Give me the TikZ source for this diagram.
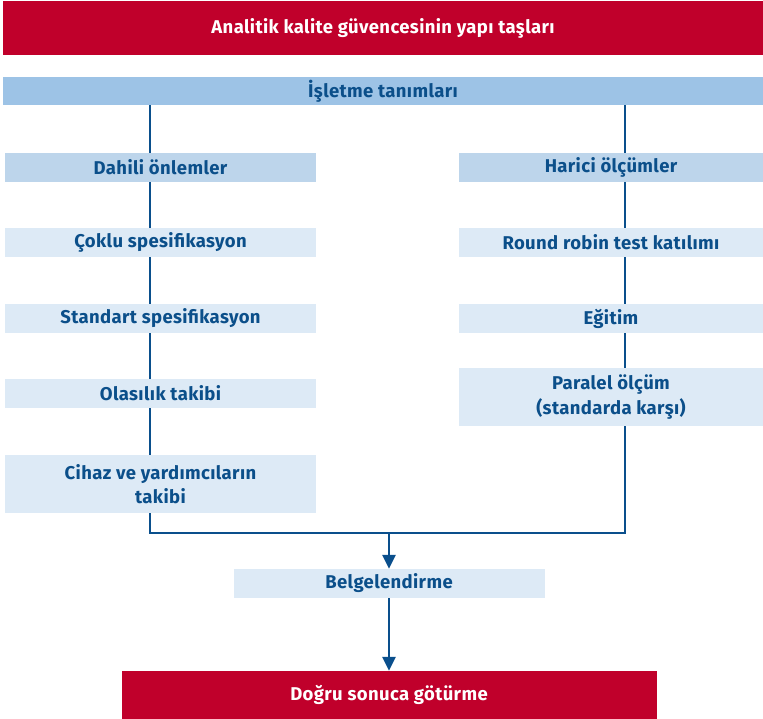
\documentclass[tikz,border=0pt]{standalone}
\usepackage{fontspec}
\setmainfont{Fira Sans}[LetterSpace=2]
\usetikzlibrary{arrows.meta}
\definecolor{qred}{HTML}{C0002B}
\definecolor{qbar}{HTML}{9DC3E6}
\definecolor{qmid}{HTML}{BDD5EB}
\definecolor{qlight}{HTML}{DDEAF6}
\definecolor{qtext}{HTML}{0B4F8A}
\definecolor{qline}{HTML}{0A4F8C}
\tikzset{
  box/.style={rectangle, inner sep=0pt, align=center, text=qtext,
    font=\fontsize{18.5}{24.5}\selectfont\bfseries},
  redbox/.style={box, fill=qred, text=white},
  midbox/.style={box, fill=qmid, minimum height=29pt},
  lightbox/.style={box, fill=qlight, minimum height=29pt},
  conn/.style={draw=qline, line width=2.8pt},
  arr/.style={conn, -{Triangle[width=13pt,length=14pt]}}
}
\begin{document}
\begin{tikzpicture}[x=1pt,y=-1pt]
\useasboundingbox (0,0) rectangle (763,719);
% connectors (behind boxes)
\coordinate (lb) at (150,533);
\coordinate (rb) at (625,533);
\coordinate (mb) at (389,533);
\coordinate (lt) at (150,100);
\coordinate (rt) at (625,100);
\draw[conn] (lt) -- (lb) -- (rb) -- (rt);
% boxes
\node[redbox, minimum width=760pt, minimum height=54pt] (title) at (383,28) {Analitik kalite güvencesinin yapı taşları};
\node[box, fill=qbar, minimum width=760pt, minimum height=28pt] (isletme) at (383,91) {İşletme tanımları};
\node[midbox, minimum width=311pt] (dahili) at (160.5,167.5) {Dahili önlemler};
\node[lightbox, minimum width=311pt] (coklu) at (160.5,242.5) {Çoklu spesifikasyon};
\node[lightbox, minimum width=311pt] (standart) at (160.5,318.5) {Standart spesifikasyon};
\node[lightbox, minimum width=311pt] (olasilik) at (160.5,393.5) {Olasılık takibi};
\node[lightbox, minimum width=311pt, minimum height=58pt] (cihaz) at (160.5,484) {Cihaz ve yardımcıların\\takibi};
\node[midbox, minimum width=304pt] (harici) at (611,167.5) {Harici ölçümler};
\node[lightbox, minimum width=304pt] (round) at (611,242.5) {Round robin test katılımı};
\node[lightbox, minimum width=304pt] (egitim) at (611,318.5) {Eğitim};
\node[lightbox, minimum width=304pt, minimum height=58pt] (paralel) at (611,397) {Paralel ölçüm\\(standarda karşı)};
\node[lightbox, minimum width=311pt] (belg) at (389,583.5) {Belgelendirme};
\node[redbox, minimum width=535pt, minimum height=48pt] (dogru) at (389,695) {Doğru sonuca götürme};
% arrows
\draw[arr] (mb) -- (belg.north);
\draw[arr] (belg.south) -- (dogru.north);
\end{tikzpicture}
\end{document}
